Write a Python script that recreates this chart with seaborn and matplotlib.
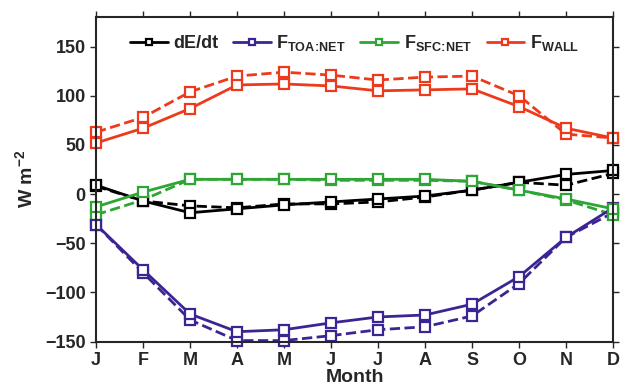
import numpy as np
import pandas as pd
import matplotlib
matplotlib.use('Agg')
import matplotlib.pyplot as plt
import seaborn as sns

# monthly values, solid = model A, dashed = model B
months = ["J", "F", "M", "A", "M", "J", "J", "A", "S", "O", "N", "D"]

dedt = [9, -7, -19, -15, -11, -8, -5, -2, 4, 12, 20, 24]
dedt_dash = [8, -7, -12, -14, -10, -10, -8, -3, 4, 12, 9, 21]
toa = [-31, -77, -122, -140, -138, -131, -125, -123, -112, -84, -44, -14]
toa_dash = [-31, -80, -128, -149, -149, -144, -138, -135, -124, -91, -44, -19]
sfc = [-13, 2, 15, 15, 15, 15, 15, 15, 13, 4, -5, -15]
sfc_dash = [-21, -6, 15, 15, 15, 14, 14, 14, 13, 4, -6, -21]
wall = [52, 67, 87, 111, 112, 110, 105, 106, 107, 89, 67, 57]
wall_dash = [63, 78, 104, 120, 124, 121, 116, 119, 120, 100, 61, 57]

labels = ["dE/dt", r"F$_{TOA\!:\!NET}$", r"F$_{SFC\!:\!NET}$", r"F$_{WALL}$"]
colors = ["black", "#3d2493", "#2fa535", "#ee3a1c"]

sns.set_style("ticks")
plt.rcParams['font.family'] = ['Liberation Sans', 'DejaVu Sans']
plt.rcParams['font.weight'] = 'bold'
plt.rcParams['axes.labelweight'] = 'bold'
plt.rcParams['mathtext.fontset'] = 'custom'
plt.rcParams['mathtext.rm'] = 'Liberation Sans:bold'
plt.rcParams['mathtext.it'] = 'Liberation Sans:bold'
plt.rcParams['mathtext.bf'] = 'Liberation Sans:bold'
plt.rcParams['mathtext.default'] = 'rm'

fig = plt.figure(figsize=(6.32, 3.89), dpi=100)
ax = fig.add_axes([0.152, 0.122, 0.818, 0.834])

x = np.arange(len(months))
solid = [dedt, toa, sfc, wall]
dashed = [dedt_dash, toa_dash, sfc_dash, wall_dash]

mk = dict(marker="s", markersize=7, markerfacecolor="white", markeredgewidth=1.6, clip_on=False)

for ys, c in zip(dashed, colors):
    sns.lineplot(x=x, y=ys, ax=ax, color=c, linestyle="--", dashes=(4, 3), linewidth=2,
                 markeredgecolor=c, legend=False, **mk)
for ys, c, lab in zip(solid, colors, labels):
    sns.lineplot(x=x, y=ys, ax=ax, color=c, linewidth=2, markeredgecolor=c, label=lab, **mk)

ax.set_xlim(0, 11)
ax.set_ylim(-150, 180)
ax.set_xticks(x)
ax.set_xticklabels(months)
ax.set_yticks(range(-150, 151, 50))
ax.tick_params(direction="out", top=True, right=True, labelsize=13, length=4, width=1)
for s in ax.spines.values():
    s.set_linewidth(1.5)
ax.set_xlabel("Month", fontsize=14, labelpad=0)
ax.set_ylabel(r"W m$^{-2}$", fontsize=14, labelpad=6)

ax.legend(loc="upper center", ncol=4, frameon=False, fontsize=13, handlelength=2.1,
          handletextpad=0.3, columnspacing=0.8, markerscale=0.7, bbox_to_anchor=(0.5, 1.0))

fig.savefig("out.png", dpi=100)
